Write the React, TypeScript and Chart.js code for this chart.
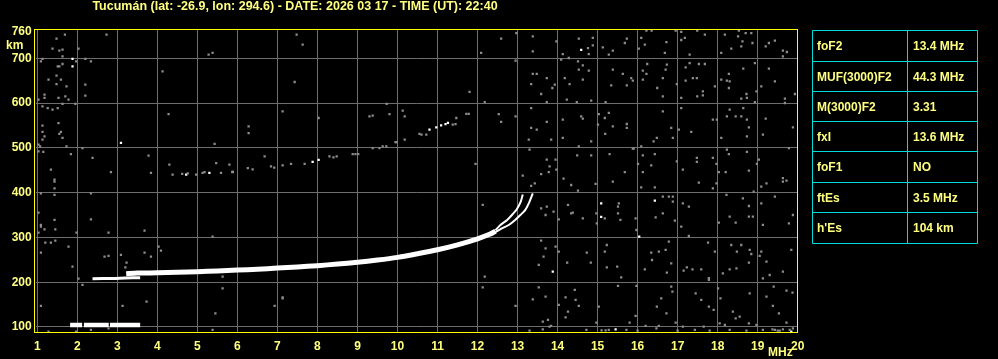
import React, { useEffect, useRef } from "react";
import { Chart, registerables } from "chart.js";
Chart.register(...registerables);

const TITLE = "Tucumán (lat: -26.9, lon: 294.6) - DATE: 2026 03 17 - TIME (UT): 22:40";
const FREQ_TICKS = [1, 2, 3, 4, 5, 6, 7, 8, 9, 10, 11, 12, 13, 14, 15, 16, 17, 18, 19, 20];
const HEIGHT_TICKS = [100, 200, 300, 400, 500, 600, 700, 760];
const PARAM_NAMES = ["foF2", "MUF(3000)F2", "M(3000)F2", "fxI", "foF1", "ftEs", "h'Es"];
const PARAM_VALUES = ["13.4 MHz", "44.3 MHz", "3.31", "13.6 MHz", "NO", "3.5 MHz", "104 km"];

// sporadic E trace (three pieces)
const ES_SEG_1 = [[1.82, 104.5], [2.12, 104.5]];
const ES_SEG_2 = [[2.165, 104.5], [2.785, 104.5]];
const ES_SEG_3 = [[2.815, 104.5], [3.57, 104.5]];
// weak low F piece
const LOWER_F = [[2.38, 208], [2.9, 208.5], [3.2, 209.5], [3.57, 210]];
// main F2 trace
const MAIN_F = [
  [3.22, 219], [3.5, 220.5], [4.0, 221], [4.5, 222], [5.0, 223.5], [5.5, 225], [6.0, 227],
  [6.5, 229], [7.0, 231.5], [7.5, 234], [8.0, 237], [8.5, 240.5], [9.0, 244.5], [9.5, 249.5],
  [10.0, 255.5], [10.5, 263.5], [11.0, 272.5], [11.5, 283.5], [12.0, 297], [12.3, 307], [12.45, 314],
];
const O_CUSP = [[12.45, 316], [12.57, 327.8], [12.74, 339], [12.86, 350], [12.98, 362.8], [13.08, 380], [13.13, 396]];
const X_CUSP = [[12.45, 312], [12.61, 320.4], [12.78, 327.8], [12.94, 339], [13.07, 350], [13.19, 361], [13.28, 376], [13.38, 398.6]];

// second hop echoes
const HOP_GRAY = [
  [4.30, 462.5], [4.38, 440.2], [4.62, 442], [4.76, 443], [4.97, 440], [5.13, 443.9], [5.18, 446], [5.47, 466],
  [5.59, 443.9], [5.80, 462.5], [5.88, 446], [6.26, 455], [6.38, 452], [6.68, 481], [6.84, 458.8], [6.92, 456],
  [7.13, 461], [7.34, 464], [7.68, 464], [8.30, 481], [8.40, 479], [8.48, 481], [8.88, 486.3], [8.95, 486.3],
  [9.02, 486.3], [9.38, 499.7], [9.55, 499.7], [9.63, 503.5], [9.72, 503.5], [9.97, 513], [10.55, 531],
  [10.60, 529.5], [10.72, 529.5], [11.38, 551.8], [11.45, 553], [11.47, 566.7], [11.72, 575.7], [11.78, 575.7],
];
const HOP_WHITE = [
  [4.72, 440], [5.30, 443.9], [5.88, 446.5], [7.88, 468.5], [8.03, 473], [10.80, 540.7], [10.97, 545.9],
  [11.09, 550.3], [11.20, 553], [11.26, 555.6],
];
const WHITE_DOTS = [
  [1.88, 699], [1.88, 682], [3.09, 511], [14.59, 719], [15.09, 376], [15.09, 346], [16.43, 382],
  [16.04, 301.7], [13.88, 223.5], [19.84, 89.6], [15.45, 94.8],
];

// background noise echoes
const NOISE_UPPER_LEFT = [
  [1.48, 743.9], [1.69, 752.8], [2.73, 752.8], [1.38, 721.5], [1.55, 717.1], [1.63, 719.3], [1.63, 704.4],
  [2.03, 721.5], [1.13, 698.5], [1.09, 693.3], [1.97, 693.3], [2.20, 698.5], [2.34, 693.3], [1.63, 687.3],
  [1.51, 682.1], [1.55, 682.1], [1.28, 652.3], [1.48, 661.2], [1.59, 652.3], [1.48, 642.6], [1.73, 637.4],
  [2.20, 641.2], [2.20, 616.6], [1.18, 618.8], [1.18, 611.4], [1.03, 607.7], [1.53, 611.4], [1.70, 615.1],
  [1.78, 607.7], [1.95, 598], [1.63, 598], [1.13, 592.8], [1.26, 589], [1.38, 585.3], [1.51, 589],
  [1.53, 555.5], [1.13, 549.6], [1.13, 535.5], [1.18, 525.8], [1.55, 531], [1.59, 535.5], [1.63, 522.1],
  [1.13, 518.3], [1.03, 507.2], [1.07, 503.4], [1.03, 492.3], [1.15, 490.8], [1.73, 503.4], [1.84, 486.3],
  [2.13, 499.7], [2.38, 477.4], [1.34, 451.4], [1.43, 429], [2.84, 446.1], [3.78, 482.6], [3.84, 443.9],
  [4.13, 670.9], [4.28, 575.6], [5.28, 708.1], [5.38, 711.9], [5.43, 508.7], [6.28, 548.1], [6.28, 533.2],
  [7.13, 581.6], [7.43, 647.1], [7.48, 752.8], [7.63, 730.5], [8.03, 566.7], [9.30, 570.4], [9.38, 571.9],
  [9.73, 598], [9.80, 575.6], [10.13, 583.1], [10.18, 570.4], [10.18, 518.3], [9.95, 513.1],
];
const NOISE_UPPER_RIGHT = [
  [12.59, 743.9], [12.09, 711.9], [12.97, 756.5], [12.95, 694.7], [13.38, 749.1], [13.38, 715.6], [13.97, 737.9],
  [14.13, 709.6], [14.28, 700.7], [14.53, 743.9], [14.76, 723], [14.88, 745.4], [14.88, 729], [14.78, 709.6],
  [15.13, 724.5], [15.28, 708.1], [15.38, 717.1], [15.73, 743.9], [15.68, 734.2], [16.09, 745.4], [16.22, 761.7],
  [16.35, 761.7], [16.03, 721.5], [16.18, 730.5], [16.72, 736.4], [16.68, 711.9], [16.95, 761.7], [17.09, 758.8],
  [17.09, 740.9], [17.18, 745.4], [17.30, 708.1], [17.49, 761.7], [17.68, 752.8], [18.09, 711.9], [18.18, 752.8],
  [18.34, 721.5], [18.51, 749.1], [18.53, 761.7], [18.62, 737.9], [18.59, 726.8], [18.70, 756.5], [18.84, 756.5],
  [18.87, 734.2], [19.20, 726.8], [19.28, 734.2], [19.43, 739.4], [19.63, 717.1], [19.73, 714.1], [19.63, 704.4],
  [14.51, 693.3], [14.63, 684.3], [14.53, 674.7], [14.78, 672.4], [14.09, 697], [14.63, 652.3], [14.18, 656],
  [14.30, 642.6], [13.38, 665], [13.48, 665], [13.73, 656], [13.87, 633.7], [13.93, 641.2], [13.34, 642.6],
  [13.59, 620.3], [13.73, 602.4], [14.23, 607.7], [14.48, 602.4], [14.84, 605.4], [15.20, 602.4], [15.38, 674.7],
  [15.63, 665], [15.84, 656], [15.88, 650.1], [15.73, 639.7], [15.34, 639.7], [16.13, 672.4], [16.22, 665],
  [16.13, 652.3], [16.24, 687.3], [16.63, 656], [16.73, 685.8], [16.70, 674.7], [16.49, 633.7], [16.63, 615.1],
  [17.09, 611.4], [16.98, 642.6], [17.20, 679.9], [17.20, 650.1], [17.30, 689.5], [17.53, 687.3], [17.68, 687.3],
  [17.38, 656], [17.48, 656], [17.63, 626.3], [17.63, 617.3], [17.49, 615.1], [17.93, 637.4], [18.09, 652.3],
  [18.30, 648.6], [18.23, 650.1], [18.28, 665], [18.28, 633.7], [18.64, 676.9], [18.93, 689.5], [19.28, 676.9],
  [19.43, 648.6], [19.09, 637.4], [18.97, 626.3], [18.72, 620.3], [18.59, 609.9], [18.73, 611.4], [18.93, 602.4],
  [19.68, 609.9], [19.68, 600.2], [19.93, 620.3],
  [11.80, 624.8], [12.18, 602.4], [12.53, 575.6], [12.59, 557.8], [12.95, 570.4], [13.34, 589], [13.34, 544.4],
  [13.48, 540.6], [13.73, 557.8], [13.28, 518.3], [13.84, 518.3], [14.13, 563], [14.59, 570.4], [14.63, 565.2],
  [14.13, 522.1], [14.53, 503.4], [14.84, 514.6], [15.03, 575.6], [15.18, 566.7], [15.28, 577.9], [15.01, 551.8],
  [15.38, 548.1], [15.73, 553.3], [15.73, 544.4], [15.19, 531], [15.90, 498.2], [16.09, 503.4], [16.40, 514.6],
  [16.48, 522.1], [16.63, 581.6], [16.84, 544.4], [16.88, 522.1], [17.03, 540.6], [17.09, 589], [17.34, 535.5],
  [17.88, 563], [17.98, 563], [18.09, 522.1], [18.30, 585.3], [18.23, 570.4], [18.45, 570.4], [18.59, 570.4],
  [18.73, 563], [18.78, 545.9], [18.73, 525.8], [18.64, 589], [19.13, 529.5], [19.20, 565.2], [19.88, 545.9],
  [19.78, 499.7], [11.95, 464], [13.30, 496], [13.13, 437.9], [13.59, 441.6], [13.73, 473.7], [13.80, 458.8],
  [13.95, 473.7], [13.97, 451.4], [13.78, 446.1], [14.15, 431.2], [14.49, 483.3], [14.84, 483.3], [15.30, 486.3],
  [15.68, 446.1], [15.88, 498.2], [16.01, 464], [16.13, 483.3], [16.34, 461], [16.43, 486.3], [16.13, 446.1],
  [16.98, 469.9], [17.13, 451.4], [17.48, 477.4], [17.48, 468.5], [17.88, 477.4], [17.97, 464], [18.03, 446.1],
  [18.23, 496], [18.28, 486.3], [18.20, 446.1], [18.73, 490.8], [18.78, 449.1], [18.98, 464], [19.03, 473.7],
  [19.63, 432.7], [19.72, 426.8],
];
const NOISE_LOWER_RIGHT = [
  [13.34, 414.9], [13.43, 420.9], [14.34, 417.1], [14.51, 404.5], [14.95, 419.4], [15.38, 424.6], [16.09, 411.9],
  [16.43, 411.9], [16.63, 391.1], [16.78, 391.1], [16.88, 391.1], [16.88, 379.9], [17.13, 376.2], [17.28, 368.7],
  [17.53, 422.3], [17.88, 409.7], [17.97, 420.9], [18.22, 394.8], [18.63, 387.4], [18.78, 370.2], [18.90, 402.2],
  [19.09, 413.4], [19.22, 420.9], [19.43, 391.1], [19.09, 376.2], [19.63, 424.6], [12.13, 372.5], [13.59, 365],
  [13.73, 368.7], [13.70, 350.1], [13.90, 357.6], [14.03, 340.5], [14.26, 372.5], [14.34, 353.9], [14.38, 355.3],
  [14.63, 342.7], [14.97, 353.9], [14.98, 331.5], [15.18, 342.7], [15.51, 368.7], [15.53, 376.2], [15.51, 353.9],
  [15.57, 339], [15.95, 342.7], [15.97, 316.6], [16.63, 353.9], [16.45, 345], [16.93, 337.5], [17.09, 324.1],
  [17.28, 303.2], [18.03, 333], [18.30, 346.4], [18.45, 333], [18.78, 346.4], [18.88, 346.4], [19.13, 327.8],
  [19.78, 331.5], [19.88, 350.1], [13.59, 292.8], [13.70, 275.7], [13.65, 257.1], [13.95, 279.4], [14.03, 268.3],
  [13.53, 238.5], [14.24, 243.7], [14.73, 266], [14.83, 243.7], [15.23, 283.1], [15.18, 268.3], [15.23, 233.3],
  [15.49, 234.8], [15.59, 210.9], [16.18, 228.8], [16.34, 266], [16.36, 249.6], [16.53, 268.3], [16.70, 272],
  [16.78, 290.6], [16.84, 242.2], [16.73, 221.4], [17.15, 225.8], [17.23, 233.3], [17.37, 228.8], [17.59, 228.8],
  [17.76, 288.3], [17.78, 205], [17.78, 209], [17.93, 268.3], [18.34, 283.1], [18.47, 231], [18.48, 268.3],
  [18.59, 283.1], [18.80, 272], [18.84, 263], [18.78, 243.7], [19.05, 258.6], [19.09, 268.3], [19.13, 208.7],
  [19.30, 216.1], [19.63, 223.6], [19.84, 272], [19.22, 245.9], [18.13, 219.9], [18.30, 228.8], [12.13, 188.6],
  [12.18, 212.4], [12.95, 146.9], [13.38, 161.8], [13.53, 188.6], [13.70, 167.8], [13.63, 111.9], [13.76, 115.7],
  [13.84, 102.3], [14.03, 149.2], [14.20, 166.3], [14.20, 121.6], [14.26, 134.3], [14.43, 182.7], [14.45, 160.3],
  [14.53, 146.9], [14.72, 93.3], [15.03, 145.4], [14.97, 109.7], [15.28, 93.3], [15.51, 191.6], [15.80, 109.7],
  [15.95, 124.6], [15.97, 191.6], [16.20, 102.3], [16.48, 145.4], [16.53, 102.3], [16.59, 164], [16.72, 130.5],
  [16.84, 190.1], [16.87, 179], [16.95, 109.7], [17.13, 100.8], [17.43, 93.3], [17.45, 175.2], [17.59, 160.3],
  [17.78, 145.4], [17.90, 138], [18.07, 164], [18.01, 186.4], [18.05, 108.2], [18.18, 104.5], [18.38, 134.3],
  [18.45, 119.4], [18.55, 123.1], [18.78, 108.2], [18.80, 175.2], [18.97, 104.5], [19.22, 167.8], [19.40, 190.1],
  [19.38, 146.9], [19.53, 130.5], [19.72, 181.2], [19.87, 176.7], [19.43, 93.3], [19.63, 94.8], [19.80, 93.3],
  [19.37, 94.8], [19.72, 109.7], [19.88, 97.1], [15.72, 93.3], [16.47, 97.1], [17.65, 100.8], [17.80, 91.9],
  [18.30, 93.3], [18.72, 91.9], [19.13, 93.3], [13.30, 91.9], [13.63, 94.8], [13.80, 100.8], [15.10, 92.5],
  [15.20, 92.5], [16.00, 92], [17.00, 91.9], [19.50, 92], [19.55, 92],
];
const NOISE_LOWER_LEFT = [
  [1.43, 424.6], [1.43, 409.7], [1.43, 394.8], [1.09, 398.5], [2.34, 398.5], [1.03, 355.3], [1.43, 339],
  [2.34, 340.5], [1.09, 324.1], [1.09, 328], [1.18, 318.1], [1.45, 318.1], [1.03, 310.7], [1.98, 310.7],
  [2.78, 310.7], [3.68, 315.1], [1.20, 288.3], [1.34, 288.3], [1.45, 292.8], [1.78, 279.4], [1.09, 266],
  [2.68, 257.1], [2.78, 258.6], [3.09, 260.8], [3.68, 266], [3.84, 257.1], [4.03, 279.4], [4.09, 270.5],
  [5.38, 301.8], [3.23, 243.7], [3.20, 233.3], [1.88, 234.8], [2.03, 208], [2.13, 193.8], [5.63, 212.4],
  [5.63, 186.4], [1.09, 146.9], [3.13, 146.9], [3.73, 156.6], [7.13, 164], [7.13, 166], [6.93, 146.9],
  [5.45, 130.5], [1.28, 89.6], [1.97, 89.6], [2.34, 93.3], [2.78, 97.1], [5.38, 93.3],
];

const GRID = "#6e6e6e";
const NOISE = "#8c8c8c";
const YELLOW_TEXT = "#ffff80";
const FONT = "'Liberation Sans', Arial, sans-serif";

const toXY = (arr: number[][]) => arr.map(([x, y]) => ({ x, y }));

function pointSet(data: number[][], color: string) {
  return {
    data: toXY(data),
    showLine: false,
    pointStyle: "rect",
    pointRadius: 1.6,
    pointBorderWidth: 0,
    backgroundColor: color,
    borderColor: color,
  };
}
function lineSet(data: number[][], width: number) {
  return {
    data: toXY(data),
    showLine: true,
    borderColor: "#ffffff",
    borderWidth: width,
    borderCapStyle: "butt",
    pointRadius: 0,
    tension: 0.2,
    fill: false,
  };
}

const overlay = {
  id: "overlay",
  beforeDraw(chart: any) {
    const c = chart.ctx;
    c.save();
    c.fillStyle = "#000";
    c.fillRect(0, 0, chart.width, chart.height);
    c.restore();
  },
  afterDraw(chart: any) {
    const c = chart.ctx;
    const a = chart.chartArea;
    c.save();
    // plot frame
    c.strokeStyle = "#ffff00";
    c.lineWidth = 1;
    c.strokeRect(Math.floor(a.left) - 0.5, Math.floor(a.top) + 0.5, Math.round(a.right) - Math.floor(a.left), Math.round(a.bottom) - Math.floor(a.top) - 1);
    // title and axis units
    c.fillStyle = YELLOW_TEXT;
    c.font = `bold 12.5px ${FONT}`;
    c.textBaseline = "alphabetic";
    c.textAlign = "center";
    c.fillText(TITLE, 295, 10);
    c.font = `bold 12px ${FONT}`;
    c.textAlign = "left";
    c.fillText("km", 6, 49);
    c.fillText("MHz", 768, 356);
    // parameter table
    const tl = 812.5, tr = 977.5, tm = 907.5;
    const rows = [30.5, 61.5, 91.5, 121.5, 151.5, 182.5, 212.5, 243.5];
    c.strokeStyle = "#00dcdc";
    c.beginPath();
    rows.forEach((y) => { c.moveTo(tl, y); c.lineTo(tr, y); });
    c.moveTo(tl, rows[0]); c.lineTo(tl, rows[rows.length - 1]);
    c.moveTo(tm, rows[0]); c.lineTo(tm, rows[rows.length - 1]);
    c.moveTo(tr, rows[0]); c.lineTo(tr, rows[rows.length - 1]);
    c.stroke();
    c.textBaseline = "middle";
    PARAM_NAMES.forEach((name, i) => {
      const yc = (rows[i] + rows[i + 1]) / 2 + 1;
      c.fillText(name, 817, yc);
      c.fillText(PARAM_VALUES[i], 913, yc);
    });
    c.restore();
  },
};

export default function App() {
  const ref = useRef<HTMLCanvasElement>(null);
  useEffect(() => {
    document.body.style.margin = "0";
    document.body.style.background = "#000";
    const datasets: any[] = [
      pointSet(NOISE_UPPER_LEFT, NOISE),
      pointSet(NOISE_UPPER_RIGHT, NOISE),
      pointSet(NOISE_LOWER_RIGHT, NOISE),
      pointSet(NOISE_LOWER_LEFT, NOISE),
      pointSet(HOP_GRAY, NOISE),
      pointSet(HOP_WHITE, "#ffffff"),
      pointSet(WHITE_DOTS, "#ffffff"),
      lineSet(ES_SEG_1, 4.5),
      lineSet(ES_SEG_2, 4.5),
      lineSet(ES_SEG_3, 4.5),
      lineSet(LOWER_F, 3),
      lineSet(MAIN_F, 5),
      lineSet(O_CUSP, 2),
      lineSet(X_CUSP, 2),
    ];
    const chart = new Chart(ref.current!, {
      type: "scatter",
      data: { datasets },
      plugins: [overlay],
      options: {
        animation: false,
        responsive: false,
        devicePixelRatio: 1,
        events: [],
        layout: { padding: { top: 29.3, right: 200.3, left: 0, bottom: 0 } },
        plugins: { legend: { display: false }, tooltip: { enabled: false } },
        scales: {
          x: {
            type: "linear",
            min: 0.96,
            max: 20,
            afterBuildTicks: (s: any) => { s.ticks = FREQ_TICKS.map((v) => ({ value: v })); },
            afterFit: (s: any) => { s.height = 25.7; },
            border: { display: false },
            grid: { color: GRID, lineWidth: 1, drawTicks: false },
            ticks: { color: YELLOW_TEXT, font: { family: FONT, size: 12, weight: "bold" }, padding: 6, autoSkip: false, maxRotation: 0 },
          },
          y: {
            type: "linear",
            min: 85.9,
            max: 764.8,
            afterBuildTicks: (s: any) => { s.ticks = HEIGHT_TICKS.map((v) => ({ value: v })); },
            afterFit: (s: any) => { s.width = 35.7; },
            border: { display: false },
            grid: {
              color: (ctx: any) => (ctx.tick && ctx.tick.value === 760 ? "rgba(0,0,0,0)" : GRID),
              lineWidth: 1,
              drawTicks: false,
            },
            ticks: { color: YELLOW_TEXT, font: { family: FONT, size: 12, weight: "bold" }, padding: 4, autoSkip: false },
          },
        },
      } as any,
    });
    return () => chart.destroy();
  }, []);
  return (
    <div style={{ width: 998, height: 359, background: "#000" }}>
      <canvas ref={ref} width={998} height={359} style={{ display: "block" }} />
    </div>
  );
}
